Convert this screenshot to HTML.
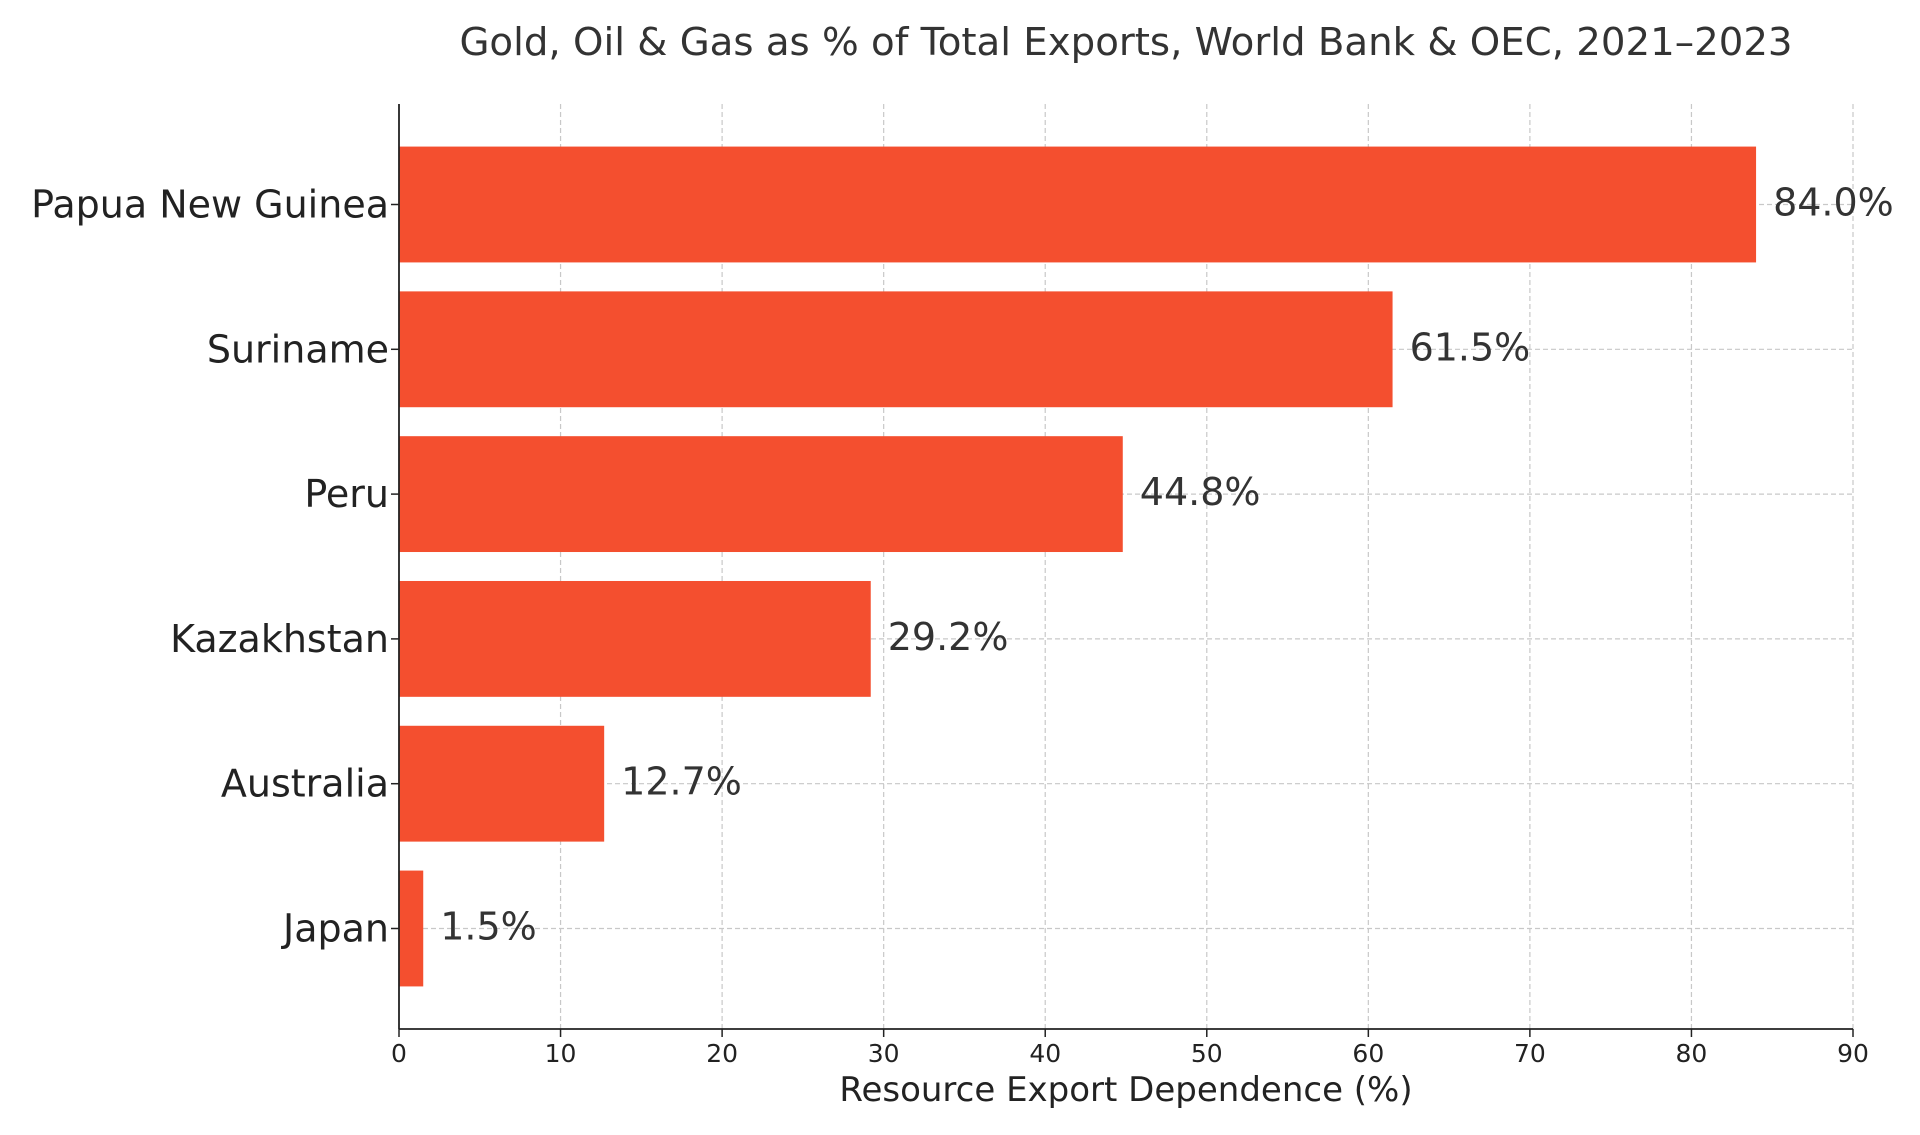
<!DOCTYPE html>
<html><head><meta charset="utf-8"><style>
html,body{margin:0;padding:0;background:#fff;}
svg{display:block;font-family:"DejaVu Sans","Liberation Sans",sans-serif;}
</style></head><body>
<svg id="chart" width="1920" height="1135" viewBox="0 0 1920 1135" xmlns="http://www.w3.org/2000/svg">
<text x="1126" y="55" text-anchor="middle" font-size="38.7" fill="#333">Gold, Oil &amp; Gas as % of Total Exports, World Bank &amp; OEC, 2021–2023</text>
<g id="grid"></g><g id="bars"></g><g id="axes"></g>
<text x="1126" y="1101" text-anchor="middle" font-size="34" fill="#222">Resource Export Dependence (%)</text>
</svg>
<script>
const categories = ["Papua New Guinea","Suriname","Peru","Kazakhstan","Australia","Japan"];
const values = [84.0,61.5,44.8,29.2,12.7,1.5];
const valueLabels = ["84.0%","61.5%","44.8%","29.2%","12.7%","1.5%"];
const xTicks = [0,10,20,30,40,50,60,70,80,90];

const ns="http://www.w3.org/2000/svg";
const X0=399, X1=1853, TOP=104, BOT=1029, XMAX=90;
const xScale=v=>X0+(v/XMAX)*(X1-X0);
const band=144.8;
const yCenter=i=>204.5+band*i;
const barH=band*0.8;
function mk(tag,attrs,parent){const e=document.createElementNS(ns,tag);for(const k in attrs)e.setAttribute(k,attrs[k]);parent.appendChild(e);return e;}
const grid=document.getElementById('grid'),bars=document.getElementById('bars'),axes=document.getElementById('axes');
xTicks.forEach(t=>{
  const x=xScale(t);
  const g=mk('line',{x1:x,x2:x,y1:TOP,y2:BOT,stroke:'#c8c8c8','stroke-width':1.2,'stroke-dasharray':'5,3'},grid);
  
  
  const tk=mk('line',{x1:x,x2:x,y1:BOT,y2:BOT+8,stroke:'#222','stroke-width':1.5},axes);
  
  
  const tl=mk('text',{x:x,y:BOT+33,'text-anchor':'middle','font-size':25,fill:'#222'},axes);
  tl.textContent=t;
  
  
});
categories.forEach((c,i)=>{
  const y=yCenter(i);
  const g=mk('line',{x1:X0,x2:X1,y1:y,y2:y,stroke:'#c8c8c8','stroke-width':1.2,'stroke-dasharray':'5,3'},grid);
  
  
  const r=mk('rect',{x:X0,y:y-barH/2,width:xScale(values[i])-X0,height:barH,fill:'#f44f2f'},bars);
  
  
  const vl=mk('text',{x:xScale(values[i])+17,y:y+11,'font-size':38,fill:'#333'},bars);
  vl.textContent=valueLabels[i];
  
  
  const tk=mk('line',{x1:X0-8,x2:X0,y1:y,y2:y,stroke:'#222','stroke-width':1.5},axes);
  
  
  const cl=mk('text',{x:X0-10,y:y+13,'text-anchor':'end','font-size':38,fill:'#222'},axes);
  cl.textContent=c;
  
  
});
const la=mk('line',{x1:X0,x2:X0,y1:TOP,y2:BOT,stroke:'#222','stroke-width':1.8},axes);


const ba=mk('line',{x1:X0,x2:X1,y1:BOT,y2:BOT,stroke:'#222','stroke-width':1.8},axes);


</script>
</body></html>
